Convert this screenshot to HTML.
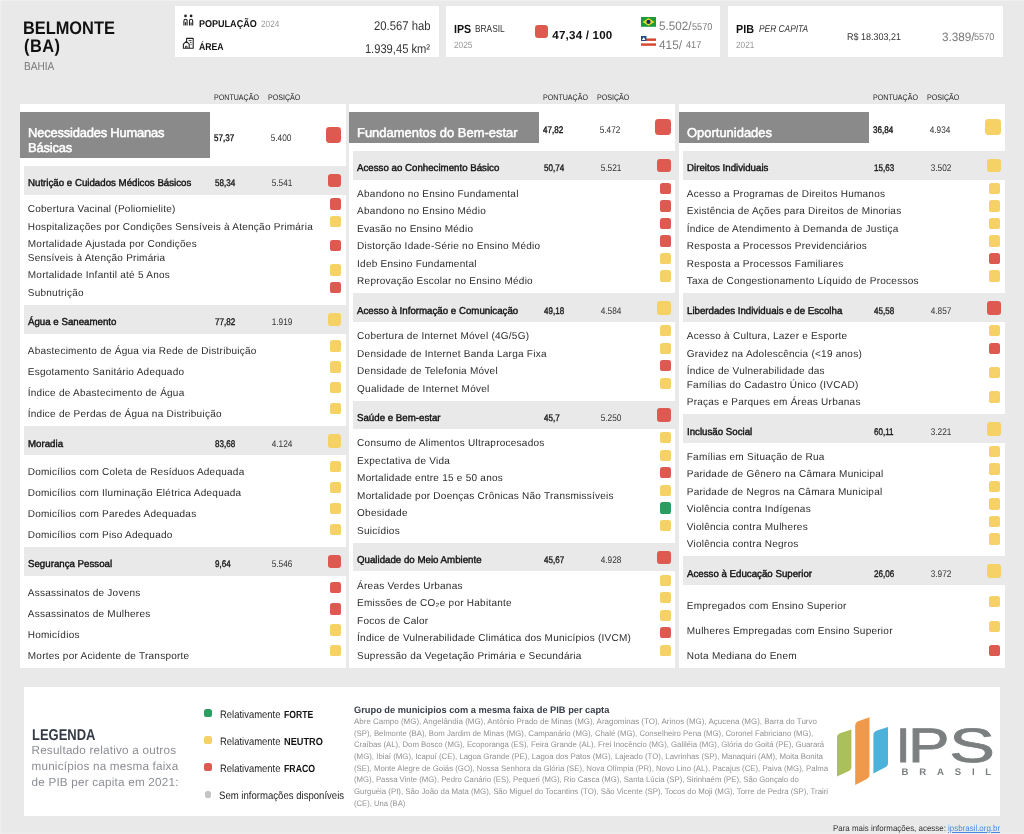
<!DOCTYPE html>
<html lang="pt-BR"><head><meta charset="utf-8"><title>IPS Brasil - Belmonte (BA)</title>
<style>
*{box-sizing:border-box}
html,body{margin:0;padding:0}
body{text-rendering:geometricPrecision;width:1024px;height:834px;position:relative;overflow:hidden;background:#e9e9e9;font-family:"Liberation Sans",sans-serif;color:#333}
.sq{position:absolute;border-radius:3px}
.row{font-size:10px;letter-spacing:.25px;color:#2c2c2c}
.sub{font-size:10px;letter-spacing:0;color:#111;-webkit-text-stroke:.4px #111}
.ttl{font-size:12.9px;color:#fff;letter-spacing:0;-webkit-text-stroke:.5px #fff}
.num{font-size:9.6px;color:#333}
.numb{font-size:9.6px;color:#111;-webkit-text-stroke:.35px #111}
.hdr{font-size:8px;letter-spacing:0;color:#222}

.b{position:absolute;white-space:nowrap;line-height:0;height:0}
.lst{font-size:8px;color:#929292;letter-spacing:0}
</style></head>
<body>
<div style="position:absolute;left:0;top:0;width:1024px;height:834px;box-shadow:inset 1.5px 1.2px 0 #efefef,inset 0 -1.5px 0 #eeeeee"></div>
<div class="b " style="left:23.30px;top:28px;font-size:18.2px;font-weight:bold;color:#111"><span style="display:inline-block;transform:scaleX(0.9);transform-origin:0 50%">BELMONTE</span></div>
<div class="b " style="left:24.20px;top:46px;font-size:18.2px;font-weight:bold;color:#111;letter-spacing:.5px"><span style="display:inline-block;transform:scaleX(0.9);transform-origin:0 50%">(BA)</span></div>
<div class="b " style="left:23.80px;top:67px;font-size:11.6px;color:#7a7a7a"><span style="display:inline-block;transform:scaleX(0.873);transform-origin:0 50%">BAHIA</span></div>
<div style="position:absolute;left:175.00px;top:6.00px;width:263.60px;height:51.00px;background:#fff"></div>
<div style="position:absolute;left:446.00px;top:6.00px;width:274.00px;height:51.00px;background:#fff"></div>
<div style="position:absolute;left:728.10px;top:6.00px;width:274.70px;height:51.00px;background:#fff"></div>
<svg style="position:absolute;left:182px;top:13px" width="13" height="14" viewBox="0 0 13 14">
<g fill="none" stroke="#222" stroke-width="1.1" stroke-linejoin="round">
<path d="M1.9 12.4V7.9Q1.9 6.2 3.5 6.2Q5.1 6.2 5.1 7.9V12.4"/><path d="M3.5 9.2V12.4"/>
<path d="M7.5 12.4V7.9Q7.5 6.2 9.1 6.2Q10.7 6.2 10.7 7.9V12.4"/><path d="M9.1 9.6V12.4"/>
</g><circle cx="3.5" cy="2.9" r="1.35" fill="#222"/><circle cx="9.1" cy="2.9" r="1.35" fill="#222"/></svg>
<svg style="position:absolute;left:182px;top:37px" width="13" height="13" viewBox="0 0 13 13">
<g fill="none" stroke="#222" stroke-width="1.1" stroke-linejoin="round">
<path d="M4.6 4.3V1.4H11.2V11.2H1.4V7.2L4.3 4.4L7.2 7.2V11.2"/>
<path d="M6.6 3.6H9.6M7.9 5.6H9.6M8.6 7.6H9.6" stroke-width=".9"/>
<path d="M3.6 11V9.2H5V11" stroke-width=".9"/>
</g></svg>
<div class="b " style="left:198.70px;top:25px;font-size:10px;font-weight:bold;color:#111"><span style="display:inline-block;transform:scaleX(0.903);transform-origin:0 50%">POPULAÇÃO</span></div>
<div class="b " style="left:261.00px;top:24px;font-size:9.1px;color:#999"><span style="display:inline-block;transform:scaleX(0.91);transform-origin:0 50%">2024</span></div>
<div class="b " style="left:198.70px;top:48px;font-size:10px;font-weight:bold;color:#111"><span style="display:inline-block;transform:scaleX(0.87);transform-origin:0 50%">ÁREA</span></div>
<div class="b " style="right:593.50px;text-align:right;top:26px;font-size:12.7px;color:#333"><span style="display:inline-block;transform:scaleX(0.889);transform-origin:100% 50%">20.567 hab</span></div>
<div class="b " style="right:593.50px;text-align:right;top:49px;font-size:12.7px;color:#333"><span style="display:inline-block;transform:scaleX(0.88);transform-origin:100% 50%">1.939,45 km²</span></div>
<div class="b " style="left:453.60px;top:29px;font-size:11.8px;font-weight:bold;color:#111"><span style="display:inline-block;transform:scaleX(0.9);transform-origin:0 50%">IPS</span></div>
<div class="b " style="left:475.20px;top:30px;font-size:10.2px;color:#333"><span style="display:inline-block;transform:scaleX(0.82);transform-origin:0 50%">BRASIL</span></div>
<div class="b " style="left:454.10px;top:45px;font-size:9.1px;color:#999"><span style="display:inline-block;transform:scaleX(0.91);transform-origin:0 50%">2025</span></div>
<div class="sq" style="left:534.80px;top:24.60px;width:13.30px;height:13.30px;background:#de5a50;border-radius:3.2px"></div>
<div class="b " style="left:552.30px;top:36px;font-size:11.6px;font-weight:bold;letter-spacing:.2px;color:#111">47,34 / 100</div>
<svg style="position:absolute;left:641px;top:17.2px" width="15" height="9.8" viewBox="0 0 15 9.8">
<rect width="15" height="9.8" fill="#1c9a3c"/><path d="M7.5 1.1L13.4 4.9L7.5 8.7L1.6 4.9Z" fill="#e6dc28"/><circle cx="7.5" cy="4.9" r="2.1" fill="#1b2a70"/></svg>
<svg style="position:absolute;left:641px;top:36px" width="15" height="9.8" viewBox="0 0 15 9.8">
<rect width="15" height="9.8" fill="#fff"/><rect y="2.45" width="15" height="2.45" fill="#d8452f"/><rect y="7.35" width="15" height="2.45" fill="#d8452f"/>
<rect width="5.4" height="4.9" fill="#23488a"/><path d="M2.7 1L4.5 4H0.9Z" fill="#fff"/></svg>
<div class="b " style="left:659.40px;top:26px;font-size:12.2px;color:#7c7c7c"><span style="display:inline-block;transform:scaleX(0.958);transform-origin:0 50%">5.502/</span></div>
<div class="b " style="left:692.00px;top:28px;font-size:10px;color:#7c7c7c"><span style="display:inline-block;transform:scaleX(0.92);transform-origin:0 50%">5570</span></div>
<div class="b " style="left:659.00px;top:45px;font-size:12.2px;color:#7c7c7c"><span style="display:inline-block;transform:scaleX(0.97);transform-origin:0 50%">415/</span></div>
<div class="b " style="left:685.90px;top:46px;font-size:10px;color:#7c7c7c"><span style="display:inline-block;transform:scaleX(0.92);transform-origin:0 50%">417</span></div>
<div class="b " style="left:735.60px;top:29px;font-size:11.8px;font-weight:bold;color:#111"><span style="display:inline-block;transform:scaleX(0.91);transform-origin:0 50%">PIB</span></div>
<div class="b " style="left:758.75px;top:30px;font-size:10px;font-style:italic;color:#333"><span style="display:inline-block;transform:scaleX(0.838);transform-origin:0 50%">PER CAPITA</span></div>
<div class="b " style="left:736.25px;top:45px;font-size:9.1px;color:#999"><span style="display:inline-block;transform:scaleX(0.91);transform-origin:0 50%">2021</span></div>
<div class="b " style="left:847.30px;top:38px;font-size:9.8px;color:#333"><span style="display:inline-block;transform:scaleX(0.917);transform-origin:0 50%">R$ 18.303,21</span></div>
<div class="b " style="left:941.50px;top:37px;font-size:12.2px;color:#7c7c7c"><span style="display:inline-block;transform:scaleX(0.958);transform-origin:0 50%">3.389/</span></div>
<div class="b " style="left:974.00px;top:38px;font-size:10px;color:#7c7c7c"><span style="display:inline-block;transform:scaleX(0.92);transform-origin:0 50%">5570</span></div>
<div style="position:absolute;left:19.75px;top:104.00px;width:325.75px;height:563.50px;background:#fff"></div>
<div style="position:absolute;left:19.75px;top:112.00px;width:189.85px;height:46.00px;background:#8a8a8a"></div>
<div class="b hdr" style="left:213.55px;top:98px;"><span style="display:inline-block;transform:scaleX(0.888);transform-origin:0 50%">PONTUAÇÃO</span></div>
<div class="b hdr" style="left:267.55px;top:98px;"><span style="display:inline-block;transform:scaleX(0.888);transform-origin:0 50%">POSIÇÃO</span></div>
<div class="b ttl" style="left:27.75px;top:133px;letter-spacing:-.2px"><span style="display:inline-block;transform:scaleX(1.005);transform-origin:0 50%">Necessidades Humanas</span></div>
<div class="b ttl" style="left:27.75px;top:148px;letter-spacing:-.2px"><span style="display:inline-block;transform:scaleX(1.005);transform-origin:0 50%">Básicas</span></div>
<div class="b numb" style="left:213.85px;top:139px;"><span style="display:inline-block;transform:scaleX(0.84);transform-origin:0 50%">57,37</span></div>
<div class="b num" style="left:180.75px;width:200px;text-align:center;top:139px;"><span style="display:inline-block;transform:scaleX(0.86);transform-origin:50% 50%">5.400</span></div>
<div class="sq" style="left:325.90px;top:127.05px;width:15.50px;height:15.50px;background:#de5a50;border-radius:3.4px"></div>
<div style="position:absolute;left:23.75px;top:166.00px;width:321.75px;height:29.00px;background:#e9e9e9"></div>
<div class="b sub" style="left:27.75px;top:184px;"><span style="display:inline-block;transform:scaleX(0.97);transform-origin:0 50%">Nutrição e Cuidados Médicos Básicos</span></div>
<div class="b numb" style="left:214.95px;top:184px;color:#2a2a2a"><span style="display:inline-block;transform:scaleX(0.84);transform-origin:0 50%">58,34</span></div>
<div class="b num" style="left:181.95px;width:200px;text-align:center;top:184px;"><span style="display:inline-block;transform:scaleX(0.86);transform-origin:50% 50%">5.541</span></div>
<div class="sq" style="left:327.90px;top:173.85px;width:13.50px;height:13.50px;background:#de5a50;border-radius:3px"></div>
<div class="b row" style="left:27.75px;top:210px;">Cobertura Vacinal (Poliomielite)</div>
<div class="sq" style="left:330.10px;top:198.35px;width:11.30px;height:11.30px;background:#de5a50;border-radius:2.6px"></div>
<div class="b row" style="left:27.75px;top:228px;">Hospitalizações por Condições Sensíveis à Atenção Primária</div>
<div class="sq" style="left:330.10px;top:215.85px;width:11.30px;height:11.30px;background:#f6d165;border-radius:2.6px"></div>
<div class="b row" style="left:27.75px;top:245px;">Mortalidade Ajustada por Condições</div>
<div class="b row" style="left:27.75px;top:259px;">Sensíveis à Atenção Primária</div>
<div class="sq" style="left:330.10px;top:240.10px;width:11.30px;height:11.30px;background:#de5a50;border-radius:2.6px"></div>
<div class="b row" style="left:27.75px;top:276px;">Mortalidade Infantil até 5 Anos</div>
<div class="sq" style="left:330.10px;top:264.35px;width:11.30px;height:11.30px;background:#f6d165;border-radius:2.6px"></div>
<div class="b row" style="left:27.75px;top:294px;">Subnutrição</div>
<div class="sq" style="left:330.10px;top:281.85px;width:11.30px;height:11.30px;background:#de5a50;border-radius:2.6px"></div>
<div style="position:absolute;left:23.75px;top:305.00px;width:321.75px;height:28.90px;background:#e9e9e9"></div>
<div class="b sub" style="left:27.75px;top:323px;"><span style="display:inline-block;transform:scaleX(0.97);transform-origin:0 50%">Água e Saneamento</span></div>
<div class="b numb" style="left:214.95px;top:323px;color:#2a2a2a"><span style="display:inline-block;transform:scaleX(0.84);transform-origin:0 50%">77,82</span></div>
<div class="b num" style="left:181.95px;width:200px;text-align:center;top:323px;"><span style="display:inline-block;transform:scaleX(0.86);transform-origin:50% 50%">1.919</span></div>
<div class="sq" style="left:327.90px;top:312.85px;width:13.50px;height:13.50px;background:#f6d165;border-radius:3px"></div>
<div class="b row" style="left:27.75px;top:352px;">Abastecimento de Água via Rede de Distribuição</div>
<div class="sq" style="left:330.10px;top:340.35px;width:11.30px;height:11.30px;background:#f6d165;border-radius:2.6px"></div>
<div class="b row" style="left:27.75px;top:373px;">Esgotamento Sanitário Adequado</div>
<div class="sq" style="left:330.10px;top:361.35px;width:11.30px;height:11.30px;background:#f6d165;border-radius:2.6px"></div>
<div class="b row" style="left:27.75px;top:394px;">Índice de Abastecimento de Água</div>
<div class="sq" style="left:330.10px;top:382.10px;width:11.30px;height:11.30px;background:#f6d165;border-radius:2.6px"></div>
<div class="b row" style="left:27.75px;top:415px;">Índice de Perdas de Água na Distribuição</div>
<div class="sq" style="left:330.10px;top:402.85px;width:11.30px;height:11.30px;background:#f6d165;border-radius:2.6px"></div>
<div style="position:absolute;left:23.75px;top:426.25px;width:321.75px;height:28.60px;background:#e9e9e9"></div>
<div class="b sub" style="left:27.75px;top:445px;"><span style="display:inline-block;transform:scaleX(0.97);transform-origin:0 50%">Moradia</span></div>
<div class="b numb" style="left:214.95px;top:445px;color:#2a2a2a"><span style="display:inline-block;transform:scaleX(0.84);transform-origin:0 50%">83,68</span></div>
<div class="b num" style="left:181.95px;width:200px;text-align:center;top:445px;"><span style="display:inline-block;transform:scaleX(0.86);transform-origin:50% 50%">4.124</span></div>
<div class="sq" style="left:327.90px;top:434.10px;width:13.50px;height:13.50px;background:#f6d165;border-radius:3px"></div>
<div class="b row" style="left:27.75px;top:473px;">Domicílios com Coleta de Resíduos Adequada</div>
<div class="sq" style="left:330.10px;top:460.85px;width:11.30px;height:11.30px;background:#f6d165;border-radius:2.6px"></div>
<div class="b row" style="left:27.75px;top:494px;">Domicílios com Iluminação Elétrica Adequada</div>
<div class="sq" style="left:330.10px;top:481.85px;width:11.30px;height:11.30px;background:#f6d165;border-radius:2.6px"></div>
<div class="b row" style="left:27.75px;top:515px;">Domicílios com Paredes Adequadas</div>
<div class="sq" style="left:330.10px;top:502.85px;width:11.30px;height:11.30px;background:#f6d165;border-radius:2.6px"></div>
<div class="b row" style="left:27.75px;top:536px;">Domicílios com Piso Adequado</div>
<div class="sq" style="left:330.10px;top:523.85px;width:11.30px;height:11.30px;background:#f6d165;border-radius:2.6px"></div>
<div style="position:absolute;left:23.75px;top:547.00px;width:321.75px;height:28.60px;background:#e9e9e9"></div>
<div class="b sub" style="left:27.75px;top:565px;"><span style="display:inline-block;transform:scaleX(0.97);transform-origin:0 50%">Segurança Pessoal</span></div>
<div class="b numb" style="left:214.95px;top:565px;color:#2a2a2a"><span style="display:inline-block;transform:scaleX(0.84);transform-origin:0 50%">9,64</span></div>
<div class="b num" style="left:181.95px;width:200px;text-align:center;top:565px;"><span style="display:inline-block;transform:scaleX(0.86);transform-origin:50% 50%">5.546</span></div>
<div class="sq" style="left:327.90px;top:554.85px;width:13.50px;height:13.50px;background:#de5a50;border-radius:3px"></div>
<div class="b row" style="left:27.75px;top:594px;">Assassinatos de Jovens</div>
<div class="sq" style="left:330.10px;top:582.10px;width:11.30px;height:11.30px;background:#de5a50;border-radius:2.6px"></div>
<div class="b row" style="left:27.75px;top:615px;">Assassinatos de Mulheres</div>
<div class="sq" style="left:330.10px;top:603.35px;width:11.30px;height:11.30px;background:#de5a50;border-radius:2.6px"></div>
<div class="b row" style="left:27.75px;top:636px;">Homicídios</div>
<div class="sq" style="left:330.10px;top:624.35px;width:11.30px;height:11.30px;background:#f6d165;border-radius:2.6px"></div>
<div class="b row" style="left:27.75px;top:657px;">Mortes por Acidente de Transporte</div>
<div class="sq" style="left:330.10px;top:645.10px;width:11.30px;height:11.30px;background:#f6d165;border-radius:2.6px"></div>
<div style="position:absolute;left:349.10px;top:104.00px;width:325.90px;height:563.50px;background:#fff"></div>
<div style="position:absolute;left:349.10px;top:112.00px;width:190.15px;height:30.50px;background:#8a8a8a"></div>
<div class="b hdr" style="left:542.90px;top:98px;"><span style="display:inline-block;transform:scaleX(0.888);transform-origin:0 50%">PONTUAÇÃO</span></div>
<div class="b hdr" style="left:596.90px;top:98px;"><span style="display:inline-block;transform:scaleX(0.888);transform-origin:0 50%">POSIÇÃO</span></div>
<div class="b ttl" style="left:357.10px;top:133px;"><span style="display:inline-block;transform:scaleX(1.005);transform-origin:0 50%">Fundamentos do Bem-estar</span></div>
<div class="b numb" style="left:543.20px;top:131px;"><span style="display:inline-block;transform:scaleX(0.84);transform-origin:0 50%">47,82</span></div>
<div class="b num" style="left:510.10px;width:200px;text-align:center;top:131px;"><span style="display:inline-block;transform:scaleX(0.86);transform-origin:50% 50%">5.472</span></div>
<div class="sq" style="left:655.40px;top:119.25px;width:15.50px;height:15.50px;background:#de5a50;border-radius:3.4px"></div>
<div style="position:absolute;left:353.10px;top:150.75px;width:321.90px;height:28.75px;background:#e9e9e9"></div>
<div class="b sub" style="left:357.10px;top:169px;"><span style="display:inline-block;transform:scaleX(0.97);transform-origin:0 50%">Acesso ao Conhecimento Básico</span></div>
<div class="b numb" style="left:544.30px;top:169px;color:#2a2a2a"><span style="display:inline-block;transform:scaleX(0.84);transform-origin:0 50%">50,74</span></div>
<div class="b num" style="left:511.30px;width:200px;text-align:center;top:169px;"><span style="display:inline-block;transform:scaleX(0.86);transform-origin:50% 50%">5.521</span></div>
<div class="sq" style="left:657.40px;top:158.60px;width:13.50px;height:13.50px;background:#de5a50;border-radius:3px"></div>
<div class="b row" style="left:357.10px;top:195px;">Abandono no Ensino Fundamental</div>
<div class="sq" style="left:659.60px;top:182.85px;width:11.30px;height:11.30px;background:#de5a50;border-radius:2.6px"></div>
<div class="b row" style="left:357.10px;top:212px;">Abandono no Ensino Médio</div>
<div class="sq" style="left:659.60px;top:200.35px;width:11.30px;height:11.30px;background:#de5a50;border-radius:2.6px"></div>
<div class="b row" style="left:357.10px;top:230px;">Evasão no Ensino Médio</div>
<div class="sq" style="left:659.60px;top:217.85px;width:11.30px;height:11.30px;background:#de5a50;border-radius:2.6px"></div>
<div class="b row" style="left:357.10px;top:247px;">Distorção Idade-Série no Ensino Médio</div>
<div class="sq" style="left:659.60px;top:235.35px;width:11.30px;height:11.30px;background:#de5a50;border-radius:2.6px"></div>
<div class="b row" style="left:357.10px;top:265px;">Ideb Ensino Fundamental</div>
<div class="sq" style="left:659.60px;top:252.85px;width:11.30px;height:11.30px;background:#f6d165;border-radius:2.6px"></div>
<div class="b row" style="left:357.10px;top:282px;">Reprovação Escolar no Ensino Médio</div>
<div class="sq" style="left:659.60px;top:270.35px;width:11.30px;height:11.30px;background:#f6d165;border-radius:2.6px"></div>
<div style="position:absolute;left:353.10px;top:293.25px;width:321.90px;height:28.60px;background:#e9e9e9"></div>
<div class="b sub" style="left:357.10px;top:312px;"><span style="display:inline-block;transform:scaleX(0.97);transform-origin:0 50%">Acesso à Informação e Comunicação</span></div>
<div class="b numb" style="left:544.30px;top:312px;color:#2a2a2a"><span style="display:inline-block;transform:scaleX(0.84);transform-origin:0 50%">49,18</span></div>
<div class="b num" style="left:511.30px;width:200px;text-align:center;top:312px;"><span style="display:inline-block;transform:scaleX(0.86);transform-origin:50% 50%">4.584</span></div>
<div class="sq" style="left:657.40px;top:301.10px;width:13.50px;height:13.50px;background:#f6d165;border-radius:3px"></div>
<div class="b row" style="left:357.10px;top:337px;">Cobertura de Internet Móvel (4G/5G)</div>
<div class="sq" style="left:659.60px;top:325.10px;width:11.30px;height:11.30px;background:#f6d165;border-radius:2.6px"></div>
<div class="b row" style="left:357.10px;top:355px;">Densidade de Internet Banda Larga Fixa</div>
<div class="sq" style="left:659.60px;top:342.60px;width:11.30px;height:11.30px;background:#f6d165;border-radius:2.6px"></div>
<div class="b row" style="left:357.10px;top:372px;">Densidade de Telefonia Móvel</div>
<div class="sq" style="left:659.60px;top:360.10px;width:11.30px;height:11.30px;background:#de5a50;border-radius:2.6px"></div>
<div class="b row" style="left:357.10px;top:390px;">Qualidade de Internet Móvel</div>
<div class="sq" style="left:659.60px;top:377.60px;width:11.30px;height:11.30px;background:#f6d165;border-radius:2.6px"></div>
<div style="position:absolute;left:353.10px;top:400.50px;width:321.90px;height:28.75px;background:#e9e9e9"></div>
<div class="b sub" style="left:357.10px;top:419px;"><span style="display:inline-block;transform:scaleX(0.97);transform-origin:0 50%">Saúde e Bem-estar</span></div>
<div class="b numb" style="left:544.30px;top:419px;color:#2a2a2a"><span style="display:inline-block;transform:scaleX(0.84);transform-origin:0 50%">45,7</span></div>
<div class="b num" style="left:511.30px;width:200px;text-align:center;top:419px;"><span style="display:inline-block;transform:scaleX(0.86);transform-origin:50% 50%">5.250</span></div>
<div class="sq" style="left:657.40px;top:408.35px;width:13.50px;height:13.50px;background:#de5a50;border-radius:3px"></div>
<div class="b row" style="left:357.10px;top:444px;">Consumo de Alimentos Ultraprocesados</div>
<div class="sq" style="left:659.60px;top:432.10px;width:11.30px;height:11.30px;background:#f6d165;border-radius:2.6px"></div>
<div class="b row" style="left:357.10px;top:462px;">Expectativa de Vida</div>
<div class="sq" style="left:659.60px;top:449.60px;width:11.30px;height:11.30px;background:#f6d165;border-radius:2.6px"></div>
<div class="b row" style="left:357.10px;top:479px;">Mortalidade entre 15 e 50 anos</div>
<div class="sq" style="left:659.60px;top:467.10px;width:11.30px;height:11.30px;background:#de5a50;border-radius:2.6px"></div>
<div class="b row" style="left:357.10px;top:497px;">Mortalidade por Doenças Crônicas Não Transmissíveis</div>
<div class="sq" style="left:659.60px;top:484.60px;width:11.30px;height:11.30px;background:#f6d165;border-radius:2.6px"></div>
<div class="b row" style="left:357.10px;top:514px;">Obesidade</div>
<div class="sq" style="left:659.60px;top:502.35px;width:11.30px;height:11.30px;background:#2a9d63;border-radius:2.6px"></div>
<div class="b row" style="left:357.10px;top:532px;">Suicídios</div>
<div class="sq" style="left:659.60px;top:519.85px;width:11.30px;height:11.30px;background:#f6d165;border-radius:2.6px"></div>
<div style="position:absolute;left:353.10px;top:543.00px;width:321.90px;height:28.40px;background:#e9e9e9"></div>
<div class="b sub" style="left:357.10px;top:561px;"><span style="display:inline-block;transform:scaleX(0.97);transform-origin:0 50%">Qualidade do Meio Ambiente</span></div>
<div class="b numb" style="left:544.30px;top:561px;color:#2a2a2a"><span style="display:inline-block;transform:scaleX(0.84);transform-origin:0 50%">45,67</span></div>
<div class="b num" style="left:511.30px;width:200px;text-align:center;top:561px;"><span style="display:inline-block;transform:scaleX(0.86);transform-origin:50% 50%">4.928</span></div>
<div class="sq" style="left:657.40px;top:550.85px;width:13.50px;height:13.50px;background:#de5a50;border-radius:3px"></div>
<div class="b row" style="left:357.10px;top:587px;">Áreas Verdes Urbanas</div>
<div class="sq" style="left:659.60px;top:574.60px;width:11.30px;height:11.30px;background:#f6d165;border-radius:2.6px"></div>
<div class="b row" style="left:357.10px;top:604px;">Emissões de CO₂e por Habitante</div>
<div class="sq" style="left:659.60px;top:592.10px;width:11.30px;height:11.30px;background:#f6d165;border-radius:2.6px"></div>
<div class="b row" style="left:357.10px;top:622px;">Focos de Calor</div>
<div class="sq" style="left:659.60px;top:609.60px;width:11.30px;height:11.30px;background:#f6d165;border-radius:2.6px"></div>
<div class="b row" style="left:357.10px;top:639px;">Índice de Vulnerabilidade Climática dos Municípios (IVCM)</div>
<div class="sq" style="left:659.60px;top:627.10px;width:11.30px;height:11.30px;background:#de5a50;border-radius:2.6px"></div>
<div class="b row" style="left:357.10px;top:657px;">Supressão da Vegetação Primária e Secundária</div>
<div class="sq" style="left:659.60px;top:644.60px;width:11.30px;height:11.30px;background:#f6d165;border-radius:2.6px"></div>
<div style="position:absolute;left:678.75px;top:104.00px;width:325.85px;height:563.50px;background:#fff"></div>
<div style="position:absolute;left:678.75px;top:112.00px;width:190.05px;height:30.50px;background:#8a8a8a"></div>
<div class="b hdr" style="left:872.55px;top:98px;"><span style="display:inline-block;transform:scaleX(0.888);transform-origin:0 50%">PONTUAÇÃO</span></div>
<div class="b hdr" style="left:926.55px;top:98px;"><span style="display:inline-block;transform:scaleX(0.888);transform-origin:0 50%">POSIÇÃO</span></div>
<div class="b ttl" style="left:686.75px;top:133px;"><span style="display:inline-block;transform:scaleX(1.005);transform-origin:0 50%">Oportunidades</span></div>
<div class="b numb" style="left:872.85px;top:131px;"><span style="display:inline-block;transform:scaleX(0.84);transform-origin:0 50%">36,84</span></div>
<div class="b num" style="left:839.75px;width:200px;text-align:center;top:131px;"><span style="display:inline-block;transform:scaleX(0.86);transform-origin:50% 50%">4.934</span></div>
<div class="sq" style="left:985.00px;top:119.25px;width:15.50px;height:15.50px;background:#f6d165;border-radius:3.4px"></div>
<div style="position:absolute;left:682.75px;top:150.75px;width:321.85px;height:28.75px;background:#e9e9e9"></div>
<div class="b sub" style="left:686.75px;top:169px;"><span style="display:inline-block;transform:scaleX(0.97);transform-origin:0 50%">Direitos Individuais</span></div>
<div class="b numb" style="left:873.95px;top:169px;color:#2a2a2a"><span style="display:inline-block;transform:scaleX(0.84);transform-origin:0 50%">15,63</span></div>
<div class="b num" style="left:840.95px;width:200px;text-align:center;top:169px;"><span style="display:inline-block;transform:scaleX(0.86);transform-origin:50% 50%">3.502</span></div>
<div class="sq" style="left:987.00px;top:158.60px;width:13.50px;height:13.50px;background:#f6d165;border-radius:3px"></div>
<div class="b row" style="left:686.75px;top:195px;">Acesso a Programas de Direitos Humanos</div>
<div class="sq" style="left:989.20px;top:182.85px;width:11.30px;height:11.30px;background:#f6d165;border-radius:2.6px"></div>
<div class="b row" style="left:686.75px;top:212px;">Existência de Ações para Direitos de Minorias</div>
<div class="sq" style="left:989.20px;top:200.35px;width:11.30px;height:11.30px;background:#f6d165;border-radius:2.6px"></div>
<div class="b row" style="left:686.75px;top:230px;">Índice de Atendimento à Demanda de Justiça</div>
<div class="sq" style="left:989.20px;top:217.85px;width:11.30px;height:11.30px;background:#f6d165;border-radius:2.6px"></div>
<div class="b row" style="left:686.75px;top:247px;">Resposta a Processos Previdenciários</div>
<div class="sq" style="left:989.20px;top:235.35px;width:11.30px;height:11.30px;background:#f6d165;border-radius:2.6px"></div>
<div class="b row" style="left:686.75px;top:265px;">Resposta a Processos Familiares</div>
<div class="sq" style="left:989.20px;top:252.85px;width:11.30px;height:11.30px;background:#de5a50;border-radius:2.6px"></div>
<div class="b row" style="left:686.75px;top:282px;">Taxa de Congestionamento Líquido de Processos</div>
<div class="sq" style="left:989.20px;top:270.35px;width:11.30px;height:11.30px;background:#f6d165;border-radius:2.6px"></div>
<div style="position:absolute;left:682.75px;top:293.25px;width:321.85px;height:28.60px;background:#e9e9e9"></div>
<div class="b sub" style="left:686.75px;top:312px;"><span style="display:inline-block;transform:scaleX(0.97);transform-origin:0 50%">Liberdades Individuais e de Escolha</span></div>
<div class="b numb" style="left:873.95px;top:312px;color:#2a2a2a"><span style="display:inline-block;transform:scaleX(0.84);transform-origin:0 50%">45,58</span></div>
<div class="b num" style="left:840.95px;width:200px;text-align:center;top:312px;"><span style="display:inline-block;transform:scaleX(0.86);transform-origin:50% 50%">4.857</span></div>
<div class="sq" style="left:987.00px;top:301.10px;width:13.50px;height:13.50px;background:#de5a50;border-radius:3px"></div>
<div class="b row" style="left:686.75px;top:337px;">Acesso à Cultura, Lazer e Esporte</div>
<div class="sq" style="left:989.20px;top:325.10px;width:11.30px;height:11.30px;background:#f6d165;border-radius:2.6px"></div>
<div class="b row" style="left:686.75px;top:355px;">Gravidez na Adolescência (&lt;19 anos)</div>
<div class="sq" style="left:989.20px;top:342.60px;width:11.30px;height:11.30px;background:#de5a50;border-radius:2.6px"></div>
<div class="b row" style="left:686.75px;top:372px;">Índice de Vulnerabilidade das</div>
<div class="b row" style="left:686.75px;top:386px;">Famílias do Cadastro Único (IVCAD)</div>
<div class="sq" style="left:989.20px;top:366.98px;width:11.30px;height:11.30px;background:#f6d165;border-radius:2.6px"></div>
<div class="b row" style="left:686.75px;top:403px;">Praças e Parques em Áreas Urbanas</div>
<div class="sq" style="left:989.20px;top:391.35px;width:11.30px;height:11.30px;background:#f6d165;border-radius:2.6px"></div>
<div style="position:absolute;left:682.75px;top:414.25px;width:321.85px;height:28.75px;background:#e9e9e9"></div>
<div class="b sub" style="left:686.75px;top:433px;"><span style="display:inline-block;transform:scaleX(0.97);transform-origin:0 50%">Inclusão Social</span></div>
<div class="b numb" style="left:873.95px;top:433px;color:#2a2a2a"><span style="display:inline-block;transform:scaleX(0.84);transform-origin:0 50%">60,11</span></div>
<div class="b num" style="left:840.95px;width:200px;text-align:center;top:433px;"><span style="display:inline-block;transform:scaleX(0.86);transform-origin:50% 50%">3.221</span></div>
<div class="sq" style="left:987.00px;top:422.10px;width:13.50px;height:13.50px;background:#f6d165;border-radius:3px"></div>
<div class="b row" style="left:686.75px;top:458px;">Famílias em Situação de Rua</div>
<div class="sq" style="left:989.20px;top:445.85px;width:11.30px;height:11.30px;background:#f6d165;border-radius:2.6px"></div>
<div class="b row" style="left:686.75px;top:475px;">Paridade de Gênero na Câmara Municipal</div>
<div class="sq" style="left:989.20px;top:463.35px;width:11.30px;height:11.30px;background:#f6d165;border-radius:2.6px"></div>
<div class="b row" style="left:686.75px;top:493px;">Paridade de Negros na Câmara Municipal</div>
<div class="sq" style="left:989.20px;top:480.85px;width:11.30px;height:11.30px;background:#f6d165;border-radius:2.6px"></div>
<div class="b row" style="left:686.75px;top:510px;">Violência contra Indígenas</div>
<div class="sq" style="left:989.20px;top:498.35px;width:11.30px;height:11.30px;background:#f6d165;border-radius:2.6px"></div>
<div class="b row" style="left:686.75px;top:528px;">Violência contra Mulheres</div>
<div class="sq" style="left:989.20px;top:515.85px;width:11.30px;height:11.30px;background:#f6d165;border-radius:2.6px"></div>
<div class="b row" style="left:686.75px;top:545px;">Violência contra Negros</div>
<div class="sq" style="left:989.20px;top:533.35px;width:11.30px;height:11.30px;background:#f6d165;border-radius:2.6px"></div>
<div style="position:absolute;left:682.75px;top:556.25px;width:321.85px;height:28.90px;background:#e9e9e9"></div>
<div class="b sub" style="left:686.75px;top:575px;"><span style="display:inline-block;transform:scaleX(0.97);transform-origin:0 50%">Acesso à Educação Superior</span></div>
<div class="b numb" style="left:873.95px;top:575px;color:#2a2a2a"><span style="display:inline-block;transform:scaleX(0.84);transform-origin:0 50%">26,06</span></div>
<div class="b num" style="left:840.95px;width:200px;text-align:center;top:575px;"><span style="display:inline-block;transform:scaleX(0.86);transform-origin:50% 50%">3.972</span></div>
<div class="sq" style="left:987.00px;top:564.10px;width:13.50px;height:13.50px;background:#f6d165;border-radius:3px"></div>
<div class="b row" style="left:686.75px;top:607px;">Empregados com Ensino Superior</div>
<div class="sq" style="left:989.20px;top:595.85px;width:11.30px;height:11.30px;background:#f6d165;border-radius:2.6px"></div>
<div class="b row" style="left:686.75px;top:632px;">Mulheres Empregadas com Ensino Superior</div>
<div class="sq" style="left:989.20px;top:620.85px;width:11.30px;height:11.30px;background:#f6d165;border-radius:2.6px"></div>
<div class="b row" style="left:686.75px;top:657px;">Nota Mediana do Enem</div>
<div class="sq" style="left:989.20px;top:645.10px;width:11.30px;height:11.30px;background:#de5a50;border-radius:2.6px"></div>
<div style="position:absolute;left:24.10px;top:687.00px;width:976.10px;height:128.80px;background:#fff"></div>
<div class="b " style="left:31.50px;top:736px;font-size:15.8px;font-weight:bold;color:#343b47"><span style="display:inline-block;transform:scaleX(0.822);transform-origin:0 50%">LEGENDA</span></div>
<div class="b " style="left:31.50px;top:751px;font-size:11.7px;letter-spacing:.21px;color:#8b8e94">Resultado relativo a outros</div>
<div class="b " style="left:31.50px;top:767px;font-size:11.7px;letter-spacing:.21px;color:#8b8e94">municípios na mesma faixa</div>
<div class="b " style="left:31.50px;top:783px;font-size:11.7px;letter-spacing:.21px;color:#8b8e94">de PIB per capita em 2021:</div>
<div class="sq" style="left:204.10px;top:708.65px;width:8.00px;height:8.00px;background:#2a9d63;border-radius:2.6px"></div>
<div class="sq" style="left:204.10px;top:736.20px;width:8.00px;height:8.00px;background:#f6d165;border-radius:2.6px"></div>
<div class="sq" style="left:204.10px;top:763.40px;width:8.00px;height:8.00px;background:#de5a50;border-radius:2.6px"></div>
<div class="sq" style="left:204.70px;top:791.20px;width:6.80px;height:6.80px;background:#c4c4c4;border-radius:2.6px"></div>
<div class="b " style="left:220.40px;top:715px;font-size:10.8px;color:#222"><span style="display:inline-block;transform:scaleX(0.876);transform-origin:0 50%">Relativamente</span></div>
<div class="b " style="left:283.60px;top:716px;font-size:10.3px;font-weight:bold;color:#111"><span style="display:inline-block;transform:scaleX(0.835);transform-origin:0 50%">FORTE</span></div>
<div class="b " style="left:220.40px;top:742px;font-size:10.8px;color:#222"><span style="display:inline-block;transform:scaleX(0.876);transform-origin:0 50%">Relativamente</span></div>
<div class="b " style="left:283.60px;top:743px;font-size:10.3px;font-weight:bold;color:#111"><span style="display:inline-block;transform:scaleX(0.892);transform-origin:0 50%">NEUTRO</span></div>
<div class="b " style="left:220.40px;top:769px;font-size:10.8px;color:#222"><span style="display:inline-block;transform:scaleX(0.876);transform-origin:0 50%">Relativamente</span></div>
<div class="b " style="left:283.60px;top:770px;font-size:10.3px;font-weight:bold;color:#111"><span style="display:inline-block;transform:scaleX(0.85);transform-origin:0 50%">FRACO</span></div>
<div class="b " style="left:219.20px;top:796px;font-size:10.8px;color:#222"><span style="display:inline-block;transform:scaleX(0.887);transform-origin:0 50%">Sem informações disponíveis</span></div>
<div class="b " style="left:354.00px;top:710px;font-size:9.4px;font-weight:bold;color:#3a404b"><span style="display:inline-block;transform:scaleX(0.988);transform-origin:0 50%">Grupo de municipios com a mesma faixa de PIB per capta</span></div>
<div class="b lst" style="left:354.00px;top:722px;"><span style="display:inline-block;transform:scaleX(0.9957);transform-origin:0 50%">Abre Campo (MG), Angelândia (MG), Antônio Prado de Minas (MG), Aragominas (TO), Arinos (MG), Açucena (MG), Barra do Turvo</span></div>
<div class="b lst" style="left:354.00px;top:734px;"><span style="display:inline-block;transform:scaleX(0.9728);transform-origin:0 50%">(SP), Belmonte (BA), Bom Jardim de Minas (MG), Campanário (MG), Chalé (MG), Conselheiro Pena (MG), Coronel Fabriciano (MG),</span></div>
<div class="b lst" style="left:354.00px;top:745px;"><span style="display:inline-block;transform:scaleX(0.9729);transform-origin:0 50%">Craíbas (AL), Dom Bosco (MG), Ecoporanga (ES), Feira Grande (AL), Frei Inocêncio (MG), Galiléia (MG), Glória do Goitá (PE), Guarará</span></div>
<div class="b lst" style="left:354.00px;top:757px;"><span style="display:inline-block;transform:scaleX(0.9797);transform-origin:0 50%">(MG), Ibiaí (MG), Icapuí (CE), Lagoa Grande (PE), Lagoa dos Patos (MG), Lajeado (TO), Lavrinhas (SP), Manaquiri (AM), Moita Bonita</span></div>
<div class="b lst" style="left:354.00px;top:769px;"><span style="display:inline-block;transform:scaleX(0.973);transform-origin:0 50%">(SE), Monte Alegre de Goiás (GO), Nossa Senhora da Glória (SE), Nova Olímpia (PR), Novo Lino (AL), Pacajus (CE), Paiva (MG), Palma</span></div>
<div class="b lst" style="left:354.00px;top:780px;"><span style="display:inline-block;transform:scaleX(0.968);transform-origin:0 50%">(MG), Passa Vinte (MG), Pedro Canário (ES), Pequeri (MG), Rio Casca (MG), Santa Lúcia (SP), Sirinhaém (PE), São Gonçalo do</span></div>
<div class="b lst" style="left:354.00px;top:792px;"><span style="display:inline-block;transform:scaleX(0.9779);transform-origin:0 50%">Gurguéia (PI), São João da Mata (MG), São Miguel do Tocantins (TO), São Vicente (SP), Tocos do Moji (MG), Torre de Pedra (SP), Trairi</span></div>
<div class="b lst" style="left:354.00px;top:804px;"><span style="display:inline-block;transform:scaleX(0.9542);transform-origin:0 50%">(CE), Una (BA)</span></div>
<svg style="position:absolute;left:830px;top:710px" width="172" height="84" viewBox="830 710 172 84">
<path d="M837 737.6Q837 734.2 840.6 733L851.4 729.6V766.8Q851.4 770.2 847.8 771.6L837 776.4Z" fill="#a9c05b"/>
<path d="M855.2 725.6Q855.2 722.2 858.8 720.9L869.5 717.3V774.6Q869.5 778 865.9 779.4L855.2 785Z" fill="#f1994a"/>
<path d="M873.4 735Q873.4 731.6 877 730.4L888 727V763Q888 766.4 884.4 767.8L873.4 773.4Z" fill="#4db2d9"/>
<text y="761.5" font-family="Liberation Sans, sans-serif" font-size="48.3" fill="#7b7f80" stroke="#7b7f80" stroke-width=".8"><tspan x="895.65" textLength="14.9" lengthAdjust="spacingAndGlyphs">I</tspan><tspan x="908.1" textLength="41.5" lengthAdjust="spacingAndGlyphs">P</tspan><tspan x="949.2" textLength="45.65" lengthAdjust="spacingAndGlyphs">S</tspan></text>
<text x="901.6" y="774.9" font-family="Liberation Sans, sans-serif" font-size="9.6" font-weight="bold" fill="#7b7f80" textLength="89.6" lengthAdjust="spacing">BRASIL</text>
</svg>
<div class="b " style="left:832.80px;top:828px;font-size:8.5px;color:#333"><span style="display:inline-block;transform:scaleX(0.933);transform-origin:0 50%">Para mais informações, acesse: <span style="color:#4a86e8;text-decoration:underline">ipsbrasil.org.br</span></span></div>
</body></html>
